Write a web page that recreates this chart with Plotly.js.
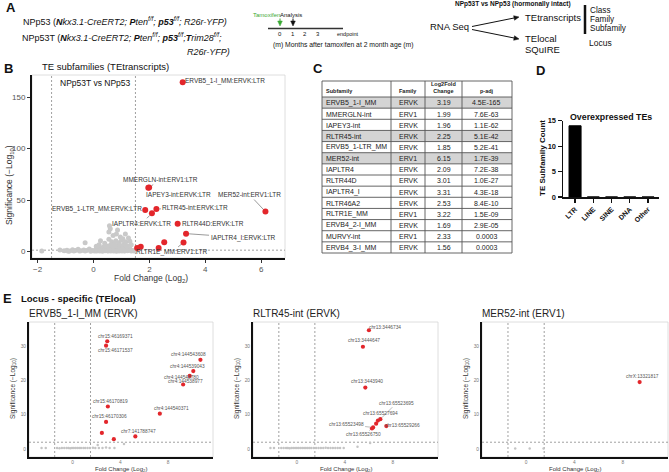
<!DOCTYPE html>
<html><head><meta charset="utf-8">
<script src="https://cdn.plot.ly/plotly-3.0.1.min.js"></script>
<style>html,body{margin:0;padding:0;background:#fff}#chart{width:669px;height:472px}</style>
</head><body><div id="chart"></div>
<script>
// ---------------- DATA ----------------
const subfamilies = ['ERVB5_1-I_MM','MMERGLN-int','IAPEY3-int','RLTR45-int','ERVB5_1-LTR_MM','MER52-int','IAPLTR4','RLTR44D','IAPLTR4_I','RLTR46A2','RLTR1E_MM','ERVB4_2-I_MM','MURVY-int','ERVB4_3-I_MM'];
const families = ['ERVK','ERV1','ERVK','ERVK','ERVK','ERV1','ERVK','ERVK','ERVK','ERVK','ERV1','ERVK','ERV1','ERVK'];
const log2FC = [3.19,1.99,1.96,2.25,1.85,6.15,2.09,3.01,3.31,2.53,3.22,1.69,2.33,1.56];
const padj = [4.5e-165,7.6e-63,1.1e-62,5.1e-42,5.2e-41,1.7e-39,7.2e-38,1.0e-27,4.3e-18,8.4e-10,1.5e-09,2.9e-05,0.0003,0.0003];
const highlighted = ['ERVB5_1-I_MM','RLTR45-int','MER52-int'];
const tableHeader = ['Subfamily','Family','Log2Fold<br>Change','p-adj'];

// background (non-significant) TE subfamilies, panel B
const bgFC = [-1.85,-1.2,-1.05,-0.95,-0.85,-0.75,-0.65,-0.55,-0.45,-0.35,-0.25,-0.15,-0.05,0.05,0.1,0.15,0.2,0.25,0.3,0.35,0.4,0.45,0.5,0.55,0.6,0.65,0.7,0.75,0.8,0.85,0.9,0.95,1.0,1.05,1.1,1.15,1.2,1.3,1.4,
  -0.3,0.1,0.2,0.25,0.35,0.4,0.45,0.55,0.6,0.65,0.7,0.75,0.8,0.85,0.9,0.95,1.0,1.05,1.1,1.15,1.2,1.3,1.35,1.25,
  0.57,0.6,0.86,0.55,0.82,1.14,0.96,0.7,1.05,
  -0.9,-0.7,-0.5,-0.3,-0.1,0.0,0.12,0.22,0.32,0.42,0.52,0.62,0.72,0.82,0.92,1.02,1.12,1.22,1.35,1.45];
const bgSig = [0.6,1.5,0.8,1.2,0.5,1.8,1.0,2.2,0.7,1.4,0.9,2.5,1.1,0.6,2.8,1.5,3.2,0.9,2.0,3.5,1.2,2.6,0.8,3.8,1.7,2.4,3.0,1.3,2.1,3.6,1.0,2.7,1.9,3.3,0.8,2.3,1.6,2.9,1.1,
  8.5,5.0,6.5,10.5,4.5,8.0,5.5,12.0,6.0,9.5,4.8,7.0,10.5,5.5,8.5,6.0,11.0,4.5,7.5,9.5,5.5,10.0,6.5,13.0,
  25,22,21,19,17,17,14,15.5,12.5,
  0.3,0.5,0.4,0.6,0.3,0.8,0.4,0.5,0.3,0.7,0.4,0.5,0.6,0.3,0.5,0.4,0.6,0.7,0.5,0.4];

// panel D
const teClasses = ['LTR','LINE','SINE','DNA','Other'];
const teCounts = [14,0,0,0,0];

// panel E: loci
const e1Loci = ['chr15:46169371','chr15:46171537','chr4:144543608','chr4:144539043','chr4:144548780','chr4:144538977','chr15:46170819','chr4:144540371','chr15:46170306','chr7:141788747','',''];
const e1FC = [2.9,2.8,10.7,10.1,9.8,9.25,2.95,7.3,2.8,5.25,2.45,3.45];
const e1Sig = [31.4,30.1,26,22.7,21.3,18.8,12.4,10.3,7.9,3.7,4.7,2.9];
const e1BgFC = [-2.6,-2.25,-1.3,-1.1,-0.9,-0.7,-0.5,-0.35,-0.2,-0.05,0.1,0.25,0.4,0.55,0.7,0.9,1.05,1.25,1.45,1.7,1.9,2.2,2.5,2.8,3.1,3.5,2.1,4.3];
const e1BgSig = [0.3,0.3,0.3,0.25,0.3,0.35,0.3,0.3,0.25,0.3,0.3,0.35,0.3,0.3,0.3,0.35,0.3,0.3,0.3,0.4,0.3,0.3,0.3,0.5,0.3,0.3,1.2,1.5];

const e2Loci = ['chr13:3446734','chr13:3444647','chr13:3443940','chr13:65523695','chr13:65527694','chr13:65529266','chr13:65523498','chr13:65526750',''];
const e2FC = [6.0,5.5,5.7,6.95,6.75,7.45,6.35,6.25,6.6];
const e2Sig = [34.6,29.8,17.9,8.7,8.3,6.7,6.3,6.0,7.4];
const e2BgFC = [-2.2,-1.9,-1.3,-1.1,-0.9,-0.75,-0.6,-0.45,-0.3,-0.15,0,0.15,0.3,0.45,0.6,0.75,0.9,1.05,1.2,1.4,1.6,1.8,2.0,2.2,2.4,2.6,2.8,3.0,3.2,3.4,3.6,3.9,5.05,6.1];
const e2BgSig = [0.3,0.3,0.3,0.3,0.3,0.3,0.25,0.3,0.3,0.3,0.3,0.3,0.35,0.3,0.3,0.3,0.3,0.3,0.3,0.3,0.35,0.3,0.3,0.3,0.4,0.3,0.3,0.3,0.3,0.3,0.3,0.3,0.7,1.8];

const e3Loci = ['chrX:13321817'];
const e3FC = [9.4];
const e3Sig = [19.5];
const e3BgFC = [-0.9,0.3,1.45];
const e3BgSig = [0.2,0.2,0.2];

const timelineMonths = [0,1,2,3];
const annotLevels = ['Class','Family','Subfamily'];

// ---------------- LAYOUT HELPERS ----------------
const F = 'Liberation Sans, Arial, sans-serif';
const W = 669, H = 472;
const PX = v => v / W, PY = v => 1 - v / H;
const sig = padj.map(p => -Math.log10(p));
const fmtP = p => {
  if (p >= 1e-4) return p.toFixed(4);
  const [m, e] = p.toExponential(1).split('e');
  const n = parseInt(e, 10);
  const ee = Math.abs(n) < 10 ? '0' + Math.abs(n) : String(Math.abs(n));
  return m + 'E' + (n < 0 ? '-' : '+') + ee;
};

const ann = [];
const shapes = [];
function txt(x, y, text, size, o) {
  ann.push(Object.assign({xref:'paper', yref:'paper', x:PX(x), y:PY(y), text, showarrow:false,
    xanchor:'left', yanchor:'middle', font:{family:F, size, color:'#111'}}, o || {}));
}
function pline(x0, y0, x1, y1, color, width, layer) {
  shapes.push({type:'line', xref:'paper', yref:'paper', x0:PX(x0), y0:PY(y0), x1:PX(x1), y1:PY(y1), line:{color, width}, layer:layer || 'above'});
}
function arrow(x0, y0, x1, y1, color) {
  const dx = x1 - x0, dy = y1 - y0, L = Math.hypot(dx, dy), ux = dx / L, uy = dy / L;
  const bx = x1 - ux * 5, by = y1 - uy * 5, hx = -uy * 2.3, hy = ux * 2.3;
  pline(x0, y0, bx, by, color, 1);
  const pts = [[x1, y1], [bx + hx, by + hy], [bx - hx, by - hy]].map(p => PX(p[0]) + ',' + PY(p[1]));
  shapes.push({type:'path', xref:'paper', yref:'paper', path:'M' + pts.join('L') + 'Z', fillcolor:color, line:{color, width:0.5}});
}
function prect(x0, y0, x1, y1, fill) {
  shapes.push({type:'rect', xref:'paper', yref:'paper', x0:PX(x0), y0:PY(y0), x1:PX(x1), y1:PY(y1), fillcolor:fill, line:{width:0}, layer:'below'});
}

// ---------------- PANEL A ----------------
txt(4, 8, '<b>A</b>', 13);
txt(21, 21, 'NPp53 (<i><b>N</b>kx3.1-CreERT2; <b>P</b>ten<sup>f/f</sup>; <b>p53</b><sup>f/f</sup>; R26r-YFP)</i>', 9);
txt(20, 37, 'NPp53T (<i><b>N</b>kx3.1-CreERT2; <b>P</b>ten<sup>f/f</sup>; <b>p53</b><sup>f/f</sup>;<b>T</b>rim28<sup>f/f</sup>;</i>', 9);
txt(232, 52, '<i>R26r-YFP)</i>', 9, {xanchor:'right'});
txt(266, 15, 'Tamoxifen', 6, {xanchor:'center', font:{family:F, size:6, color:'#3aa935'}});
txt(291, 15, 'Analysis', 6, {xanchor:'center'});
arrow(280, 18.5, 280, 26, '#3aa935');
arrow(293, 18.5, 293, 26, '#111');
pline(268, 28.5, 343, 28.5, '#333', 1.5);
timelineMonths.forEach(m => txt(280 + m * 12.7, 34, String(m), 6, {xanchor:'center'}));
txt(348, 34, 'endpoint', 5.5, {xanchor:'center'});
txt(343, 45, '(m) Months after tamoxifen at 2 month age (m)', 6.8, {xanchor:'center'});

txt(513, 4, '<b>NPp53T vs NPp53 (hormonally intact)</b>', 6.5, {xanchor:'center'});
txt(449, 27, 'RNA Seq', 9.5, {xanchor:'center'});
arrow(472, 26.5, 519, 17, '#111');
arrow(472, 29.5, 519, 39, '#111');
txt(523, 17, 'TEtranscripts', 9.5);
txt(523, 38, 'TElocal', 9.5);
txt(523, 49, 'SQuIRE', 9.5);
pline(585, 5, 585, 34, '#111', 2.5);
annotLevels.forEach((t, i) => txt(588, 10.5 + i * 9, t, 8.2));
txt(587, 42.5, 'Locus', 8.5);

// ---------------- PANEL B ----------------
txt(2, 69, '<b>B</b>', 13);
txt(40, 67, 'TE subfamilies (TEtranscripts)', 9.5);
txt(58, 83, 'NPp53T vs NPp53', 8.5);
txt(151, 278, 'Fold Change (Log<sub>2</sub>)', 8.5, {xanchor:'center', font:{family:F, size:8.5, color:'#333'}});
txt(10, 185, 'Significance (\u2212Log<sub>10</sub>)', 8.5, {xanchor:'center', textangle:-90, font:{family:F, size:8.5, color:'#333'}});

const labelOffsetsB = {
  'ERVB5_1-I_MM':[42,-1,false],
  'MMERGLN-int':[11,-8,true],
  'IAPEY3-int':[30,7,false],
  'RLTR45-int':[39,-1,true],
  'ERVB5_1-LTR_MM':[-48,-1,true],
  'MER52-int':[-16,-17,true],
  'IAPLTR4':[-10,10,true],
  'RLTR44D':[35,0,false],
  'IAPLTR4_I':[57,4,true],
  'RLTR1E_MM':[-12,10,true]
};
subfamilies.forEach((s, i) => {
  const o = labelOffsetsB[s];
  if (!o) return;
  ann.push({xref:'x', yref:'y', x:log2FC[i], y:sig[i], text:s + ':' + families[i] + ':LTR',
    showarrow:true, arrowhead:0, arrowwidth:0.6, arrowcolor:o[2] ? '#555' : 'rgba(0,0,0,0)',
    ax:o[0], ay:o[1], standoff:3, font:{family:F, size:6.5, color:'#333'}});
});

function volcanoGuides(xa, ya, thr) {
  const xd = xa + ' domain', yd = ya + ' domain';
  shapes.push({type:'rect', xref:xd, yref:yd, x0:0, x1:1, y0:0, y1:1, line:{color:'#d6d6d6', width:0.8}, layer:'below'});
  [-1.5, 1.5].forEach(v => shapes.push({type:'line', xref:xa, yref:yd, x0:v, x1:v, y0:0, y1:1,
    line:{color:'#888', width:0.8, dash:'2px,2px'}, layer:'below'}));
  shapes.push({type:'line', xref:xd, yref:ya, x0:0, x1:1, y0:thr, y1:thr, line:{color:'#888', width:0.8, dash:'2px,2px'}, layer:'below'});
}
volcanoGuides('x', 'y', 1.3);

// ---------------- PANEL C (table built from the data arrays) ----------------
txt(311, 69, '<b>C</b>', 13);
const colEdges = [322, 391, 425, 462, 512];
const tTop = 81, hBottom = 97, rowH = (253 - 97) / subfamilies.length;
const cellCols = [subfamilies, families, log2FC.map(v => v.toFixed(2)), padj.map(fmtP)];
subfamilies.forEach((s, r) => {
  if (highlighted.includes(s)) prect(colEdges[0], hBottom + r * rowH, colEdges[4], hBottom + (r + 1) * rowH, '#d4d4d4');
  cellCols.forEach((col, c) => {
    const yc = hBottom + (r + 0.5) * rowH + 0.3;
    if (c === 0) txt(colEdges[0] + 2, yc, col[r], 7, {font:{family:F, size:7, color:'#222'}});
    else txt((colEdges[c] + colEdges[c + 1]) / 2, yc, col[r], 7, {xanchor:'center', font:{family:F, size:7, color:'#222'}});
  });
});
tableHeader.forEach((h, c) => {
  const o = {yanchor:'bottom', font:{family:F, size:5.5, color:'#222'}};
  if (c === 0) txt(colEdges[0] + 2, 96, '<b>' + h + '</b>', 5.5, o);
  else txt((colEdges[c] + colEdges[c + 1]) / 2, 96, '<b>' + h + '</b>', 5.5, Object.assign({xanchor:'center'}, o));
});
for (let r = 0; r <= subfamilies.length; r++) pline(colEdges[0], hBottom + r * rowH, colEdges[4], hBottom + r * rowH, '#555', 0.9);
pline(colEdges[0], tTop, colEdges[4], tTop, '#555', 0.9);
colEdges.forEach(x => pline(x, tTop, x, 253, '#555', 0.9));

// ---------------- PANEL D ----------------
txt(534, 71, '<b>D</b>', 13);
txt(611, 117, '<b>Overexpressed TEs</b>', 8.8, {xanchor:'center'});
txt(542, 158, '<b>TE Subfamily Count</b>', 8, {xanchor:'center', textangle:-90});

// ---------------- PANEL E ----------------
txt(1, 298, '<b>E</b>', 13);
txt(19, 298, '<b>Locus - specific (TElocal)</b>', 9.5);
const ePanels = [
  {n:3, x0:29, x1:213, title:'ERVB5_1-I_MM (ERVK)', loci:e1Loci, fc:e1FC, s:e1Sig, bfc:e1BgFC, bs:e1BgSig,
   off:[[8,-5],[9,5],[-12,-5],[-6,-5],[-8,2],[2,-3],[3,-5],[12,-5],[3,-5],[3,-5]]},
  {n:4, x0:253, x1:438, title:'RLTR45-int (ERVK)', loci:e2Loci, fc:e2FC, s:e2Sig, bfc:e2BgFC, bs:e2BgSig,
   off:[[16,-3],[1,-6],[2,-6],[16,-16],[3,-7],[16,-1],[-27,-3],[-8,6]]},
  {n:5, x0:482, x1:668, title:'MER52-int (ERV1)', loci:e3Loci, fc:e3FC, s:e3Sig, bfc:e3BgFC, bs:e3BgSig,
   off:[[3,-6]]}
];

const traces = [];
traces.push({type:'scatter', mode:'markers', x:bgFC, y:bgSig, xaxis:'x', yaxis:'y', hoverinfo:'skip',
  marker:{color:'#c9c9c9', size:5}});
traces.push({type:'scatter', mode:'markers', x:log2FC, y:sig, xaxis:'x', yaxis:'y',
  marker:{color:'#e3262b', size:6}});
traces.push({type:'bar', x:teClasses, y:teCounts, xaxis:'x2', yaxis:'y2', width:0.66,
  marker:{color:'#000', line:{color:'#000', width:1}}});

const layout = {
  width:W, height:H, margin:{l:0, r:0, t:0, b:0}, showlegend:false,
  paper_bgcolor:'#fff', plot_bgcolor:'rgba(0,0,0,0)', font:{family:F},
  xaxis:{domain:[PX(32), PX(285)], anchor:'y', range:[-2.2, 6.85], tickvals:[-2,0,2,4,6],
    ticks:'outside', ticklen:3, tickcolor:'#333', showline:true, linecolor:'#111', linewidth:1.5,
    showgrid:false, zeroline:false, tickfont:{family:F, size:8, color:'#555'}},
  yaxis:{domain:[PY(258), PY(75)], anchor:'x', range:[-6.3, 171.4], tickvals:[0,50,100,150],
    ticks:'outside', ticklen:3, tickcolor:'#333', showline:true, linecolor:'#111', linewidth:2,
    showgrid:false, zeroline:false, tickfont:{family:F, size:8, color:'#555'}},
  xaxis2:{domain:[PX(563), PX(659)], anchor:'y2', type:'category', range:[-0.66, 4.6], tickangle:-45,
    ticks:'outside', ticklen:4, tickwidth:1.2, tickcolor:'#111', showline:true, linecolor:'#111', linewidth:1.5,
    showgrid:false, zeroline:false, tickfont:{family:F, size:7, color:'#111', weight:700}},
  yaxis2:{domain:[PY(197), PY(120.7)], anchor:'x2', range:[0, 15], tickvals:[0,5,10,15],
    ticks:'outside', ticklen:4, tickwidth:1.2, tickcolor:'#111', showline:true, linecolor:'#111', linewidth:1.5,
    showgrid:false, zeroline:false, tickfont:{family:F, size:7.5, color:'#111', weight:700}}
};

ePanels.forEach(p => {
  const xa = 'x' + p.n, ya = 'y' + p.n;
  layout['xaxis' + p.n] = {domain:[PX(p.x0), PX(p.x1)], anchor:ya, range:[-3.65, 11.75], tickvals:[0,4,8],
    ticks:'', showline:true, linecolor:'#111', linewidth:1.5,
    showgrid:false, zeroline:false, tickfont:{family:F, size:4.8, color:'#777'}};
  layout['yaxis' + p.n] = {domain:[PY(457), PY(322)], anchor:xa, range:[-2.3, 37], tickvals:[0,10,20,30],
    ticks:'', showline:true, linecolor:'#111', linewidth:2,
    showgrid:false, zeroline:false, tickfont:{family:F, size:4.8, color:'#777'}};
  volcanoGuides(xa, ya, 2);
  traces.push({type:'scatter', mode:'markers', x:p.bfc, y:p.bs, xaxis:xa, yaxis:ya, hoverinfo:'skip',
    marker:{color:'#c4c4c4', size:2.5}});
  traces.push({type:'scatter', mode:'markers', x:p.fc, y:p.s, xaxis:xa, yaxis:ya,
    marker:{color:'#e3262b', size:4.2}});
  p.loci.forEach((l, i) => {
    if (!l) return;
    const o = p.off[i];
    ann.push({xref:xa, yref:ya, x:p.fc[i], y:p.s[i], text:l, showarrow:true, arrowhead:0, arrowwidth:0.5,
      arrowcolor:'#777', ax:o[0], ay:o[1], standoff:2, font:{family:F, size:4.8, color:'#555'}});
  });
  txt(p.x0 - 2, 313, p.title, 10, {font:{family:F, size:10, color:'#222'}});
  txt((p.x0 + p.x1) / 2, 469, 'Fold Change (Log<sub>2</sub>)', 6, {xanchor:'center', font:{family:F, size:6, color:'#333'}});
  txt(p.x0 - 16, 389, 'Significance (\u2212Log<sub>10</sub>)', 6.5, {xanchor:'center', textangle:-90, font:{family:F, size:6.5, color:'#333'}});
});

layout.annotations = ann;
layout.shapes = shapes;
Plotly.newPlot('chart', traces, layout, {staticPlot:true, displayModeBar:false});
</script></body></html>
